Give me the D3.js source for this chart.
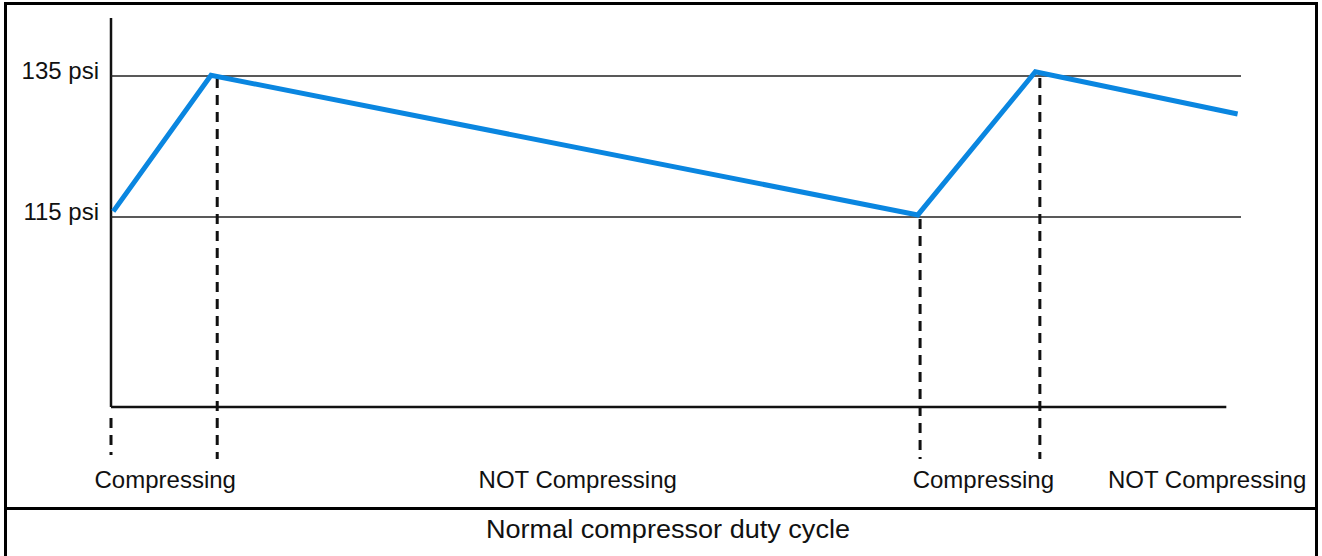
<!DOCTYPE html>
<html>
<head>
<meta charset="utf-8">
<script src="https://cdn.jsdelivr.net/npm/d3@7"></script>
<style>
  body { margin: 0; background: #fff; }
  text { font-family: "Liberation Sans", Arial, sans-serif; fill: #111; }
</style>
</head>
<body>
<div class="chart-holder"></div>
<script>
// pressure trace (time in arbitrary units, pressure in psi)
var times = [0.2, 8.85, 71.4, 81.8, 99.7];
var pressures = [115.8, 135.1, 115.3, 135.6, 129.6];

// reference levels
var levels = [135, 115];
var levelLabels = ["135 psi", "115 psi"];

// compressor switch points (dashed markers)
var switchTimes = [0, 9.4, 71.6, 82.2];
var switchFrom = [null, 135, 115, 135];

// phase labels under the axis
var phaseNames = ["Compressing", "NOT Compressing", "Compressing", "NOT Compressing"];
var phaseCenters = [4.8, 41.3, 77.2, 97];

var caption = "Normal compressor duty cycle";

var W = 1322, H = 556;
var svg = d3.select(".chart-holder").append("svg")
  .attr("width", W).attr("height", H);

var x = d3.scaleLinear().domain([0, 100]).range([111, 1241]);
var y = d3.scaleLinear().domain([115, 135]).range([217, 76]);
var yBottom = 407;

/* outer frame and caption divider */
svg.append("rect").attr("x", 5.5).attr("y", 3.5).attr("width", 1311).attr("height", 560)
  .attr("fill", "none").attr("stroke", "#000").attr("stroke-width", 3);
svg.append("line").attr("x1", 5).attr("x2", 1317).attr("y1", 508.5).attr("y2", 508.5)
  .attr("stroke", "#000").attr("stroke-width", 3);

/* axes */
svg.append("line").attr("x1", x(0)).attr("x2", x(0)).attr("y1", 18).attr("y2", yBottom)
  .attr("stroke", "#111").attr("stroke-width", 2.5);
svg.append("line").attr("x1", x(0)).attr("x2", x(98.7)).attr("y1", yBottom).attr("y2", yBottom)
  .attr("stroke", "#111").attr("stroke-width", 2.5);

/* level lines */
svg.selectAll("line.level").data(levels).enter().append("line")
  .attr("class", "level")
  .attr("x1", x(0)).attr("x2", x(100))
  .attr("y1", d => y(d)).attr("y2", d => y(d))
  .attr("stroke", "#222").attr("stroke-width", 1.5);

svg.selectAll("text.ylab").data(levels).enter().append("text")
  .attr("class", "ylab")
  .attr("x", 99).attr("y", d => y(d) + 3)
  .attr("text-anchor", "end")
  .style("font-size", "24px")
  .text((d, i) => levelLabels[i]);

/* dashed switch markers */
svg.selectAll("line.switch").data(switchTimes).enter().append("line")
  .attr("class", "switch")
  .attr("x1", d => x(d)).attr("x2", d => x(d))
  .attr("y1", (d, i) => switchFrom[i] == null ? 418 : y(switchFrom[i]) + 2)
  .attr("y2", (d, i) => switchFrom[i] == null ? 455 : 459)
  .attr("stroke", "#111").attr("stroke-width", 3)
  .attr("stroke-dasharray", "10,7");

/* pressure trace */
var line = d3.line().x(d => x(d[0])).y(d => y(d[1]));
svg.append("path")
  .datum(times.map((t, i) => [t, pressures[i]]))
  .attr("d", line)
  .attr("fill", "none")
  .attr("stroke", "#0a86e0")
  .attr("stroke-width", 5)
  .attr("stroke-linejoin", "miter");

/* phase labels */
svg.selectAll("text.phase").data(phaseNames).enter().append("text")
  .attr("class", "phase")
  .attr("x", (d, i) => x(phaseCenters[i]))
  .attr("y", 488)
  .attr("text-anchor", "middle")
  .style("font-size", "24px")
  .text(d => d);

svg.append("text")
  .attr("x", 668).attr("y", 538)
  .attr("text-anchor", "middle")
  .style("font-size", "25px")
  .attr("textLength", 364)
  .attr("lengthAdjust", "spacingAndGlyphs")
  .text(caption);
</script>
</body>
</html>
